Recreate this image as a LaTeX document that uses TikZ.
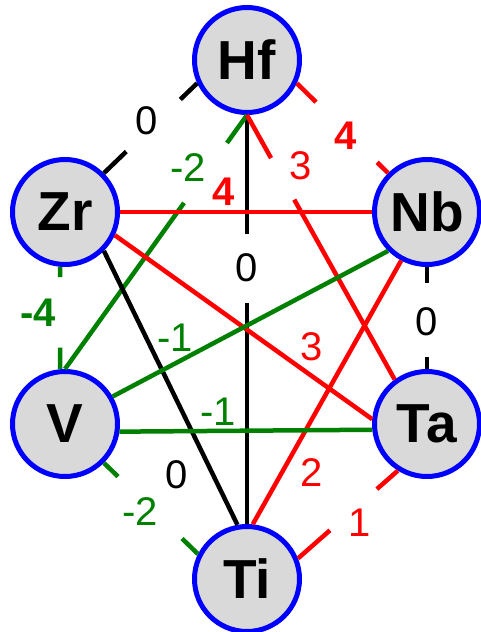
\documentclass[tikz,border=0pt]{standalone}
\usepackage{fontspec}
\setmainfont{Liberation Sans}
\usepackage{xcolor}
\usepackage{tikz}
\usetikzlibrary{calc}
\definecolor{elemgray}{HTML}{D9D9D9}
\definecolor{elemblue}{HTML}{0000FF}
\definecolor{bondred}{HTML}{FF0000}
\definecolor{bondgreen}{HTML}{008000}

\begin{document}
\begin{tikzpicture}[
x=1pt, y=-1pt,
elem/.style={
circle,
draw=elemblue,
fill=elemgray,
line width=5pt,
minimum size=105pt,
inner sep=0pt,
font=\fontsize{55}{55}\selectfont\bfseries
},
bond/.style={line width=4.5pt},
lab/.style={inner sep=0pt, font=\fontsize{40}{40}\selectfont},
labbold/.style={inner sep=0pt, font=\fontsize{40}{40}\selectfont\bfseries}
]

\useasboundingbox (0,0) rectangle (481,632);

\node[elem] (Hf) at (247,60) {Hf};
\node[elem] (Zr) at (65,212) {Zr};
\node[elem] (Nb) at (427,212) {Nb};
\node[elem] (V) at (65,424) {V};
\node[elem] (Ta) at (427,424) {Ta};
\node[elem] (Ti) at (247,579) {Ti};

% outer ring, broken around the labels
\draw[bond, black] (Hf.205) -- ($(Hf.205)!0.18!(Zr.45)$) ($(Hf.205)!0.76!(Zr.45)$) -- (Zr.45);
\draw[bond, bondred] (Hf.335) -- ($(Hf.335)!0.21!(Nb.135)$) ($(Hf.335)!0.88!(Nb.135)$) -- (Nb.135);
\draw[bond, black] (Nb.south) -- ($(Nb.south)!0.16!(Ta.north)$) ($(Nb.south)!0.88!(Ta.north)$) -- (Ta.north);
\draw[bond, bondgreen] (Zr.265) -- ($(Zr.265)!0.10!(V.95)$) ($(Zr.265)!0.79!(V.95)$) -- (V.95);
\draw[bond, bondgreen] (V.-45) -- ($(V.-45)!0.15!(Ti.153)$) ($(V.-45)!0.83!(Ti.153)$) -- (Ti.153);
\draw[bond, bondred] (Ti.22) -- ($(Ti.22)!0.32!(Ta.238)$) ($(Ti.22)!0.79!(Ta.238)$) -- (Ta.238);

% inner lines
\draw[bond, black] (Hf.south) -- ($(Hf.south)!0.29!(Ti.north)$) ($(Hf.south)!0.46!(Ti.north)$) -- (Ti.north);
\draw[bond, bondgreen] (Hf.south) -- ($(Hf.south)!0.11!(V.north)$) ($(Hf.south)!0.346!(V.north)$) -- (V.north);
\draw[bond, bondred] (Hf.south) -- ($(Hf.south)!0.163!(Ta.126)$) ($(Hf.south)!0.32!(Ta.126)$) -- (Ta.126);
\draw[bond, bondred] (Zr.east) -- (Nb.west);
\draw[bond, bondred] (Zr.-25) -- (Ta.175);
\draw[bond, black] (Zr.-45) -- (Ti.100);
\draw[bond, bondgreen] (Nb.-135) -- (V.30);
\draw[bond, bondred] (Nb.-118) -- (Ti.84);
\draw[bond, bondgreen] (V.-8) -- (Ta.186);

% labels
\node[lab] (wHfZr) at (147,121) {0};
\node[labbold, bondred] (wHfNb) at (346,136) {4};
\node[lab] (wNbTa) at (427,322) {0};
\node[labbold, bondgreen] (wZrV) at (38,313) {-4};
\node[lab, bondgreen] (wVTi) at (140,512) {-2};
\node[lab, bondred] (wTiTa) at (360,523) {1};
\node[lab, bondgreen] (wHfV) at (188,168) {-2};
\node[labbold, bondred] (wZrNb) at (224,192) {4};
\node[lab, bondred] (wHfTa) at (301,166) {3};
\node[lab] (wHfTi) at (247,268) {0};
\node[lab, bondgreen] (wNbV) at (175,338) {-1};
\node[lab, bondgreen] (wVTa) at (218,412) {-1};
\node[lab, bondred] (wZrTa) at (312,347) {3};
\node[lab] (wZrTi) at (177,475) {0};
\node[lab, bondred] (wNbTi) at (312,473) {2};

\end{tikzpicture}
\end{document}
